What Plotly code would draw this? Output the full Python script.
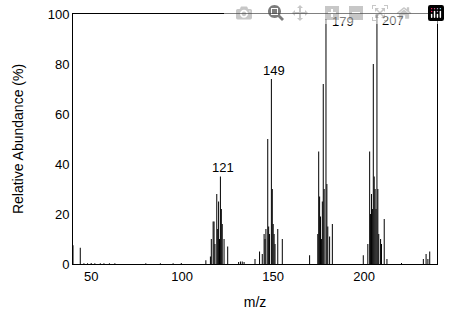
import plotly.graph_objects as go

# m/z values and relative abundances (%)
mz = [40, 44, 46, 48, 50, 52, 55, 57, 60, 63, 80, 88, 95, 99.5,
      113, 115.5, 116, 117, 117.5, 118, 119, 119.5, 120, 120.5, 121, 121.5, 122, 123, 125,
      131, 132, 133, 134, 140, 142.5,
      144, 145, 145.5, 146, 147, 147.5, 148, 149, 149.5, 150, 150.5, 151, 152.5, 155,
      170, 174.5, 175, 175.5, 176, 176.5, 177, 177.5, 178, 179, 179.5, 180, 181, 182.5,
      199.5, 202, 203, 203.5, 204, 204.5, 205, 205.5, 206, 206.5, 207, 207.5, 208, 209, 209.5, 211, 212.5,
      220.5, 232.5, 234, 235, 236]
abundance = [7.5, 6.5, 0.3, 0.3, 0.4, 0.3, 0.3, 0.3, 0.3, 0.3, 0.3, 0.3, 0.3, 0.4,
             1.5, 3, 10, 17, 17, 8, 28, 14, 25, 10, 35, 22, 16, 10, 7,
             0.8, 1, 1, 0.8, 2, 5,
             4, 12, 10, 14, 50, 15, 12, 74, 30, 16, 12, 8, 14, 10,
             3.5, 12, 45, 27, 19, 10, 25, 72, 30, 98, 32, 15, 11, 16,
             3.5, 8, 45, 20, 28, 22, 80, 35, 30, 22, 100, 30, 12, 10, 8, 18, 2,
             0.4, 2, 4, 2, 5]

label_mz = [121, 149, 179, 207]
label_text = ["121", "149", "179", "207"]
label_y = [38.5, 77.5, 97, 97.5]

xs, ys = [], []
for m, a in zip(mz, abundance):
    xs += [m, m, None]
    ys += [0, a, None]

fig = go.Figure()
fig.add_trace(go.Scatter(x=xs, y=ys, mode="lines",
                         line=dict(color="black", width=1),
                         hoverinfo="skip", showlegend=False))

fam = "Liberation Sans, Arial, sans-serif"
shifts = [3, 3, 4, 3]
anchors = ["center", "center", "left", "left"]
for m, t, yv, s, an in zip(label_mz, label_text, label_y, shifts, anchors):
    fig.add_annotation(x=m, y=yv, text=t, showarrow=False, xanchor=an,
                       xshift=s, yanchor="middle",
                       font=dict(family=fam, size=13, color="black"))

font = dict(family=fam, size=13, color="black")
fig.update_layout(
    width=450, height=326,
    margin=dict(l=73, r=13, t=14, b=62),
    paper_bgcolor="white", plot_bgcolor="white",
    font=font,
    xaxis=dict(range=[40, 240], tickvals=[50, 100, 150, 200],
               showgrid=False, zeroline=False, showline=True, mirror=True,
               linecolor="black", linewidth=1, ticks="", automargin=False,
               tickfont=font, ticklabeloverflow="allow",
               title=dict(text="m/z", font=dict(family=fam, size=14), standoff=14)),
    yaxis=dict(range=[0, 100], tickvals=[0, 20, 40, 60, 80, 100],
               showgrid=False, zeroline=False, showline=True, mirror=True,
               linecolor="black", linewidth=1, ticks="", automargin=False,
               tickfont=font, ticklabeloverflow="allow",
               title=dict(text="Relative Abundance (%)", font=dict(family=fam, size=14), standoff=20)),
)

# remove the page's default body margin so the figure sits at the window's corner
fig.write_html("out.html",
               post_script="document.body.style.margin='0';document.body.style.overflow='hidden';")
